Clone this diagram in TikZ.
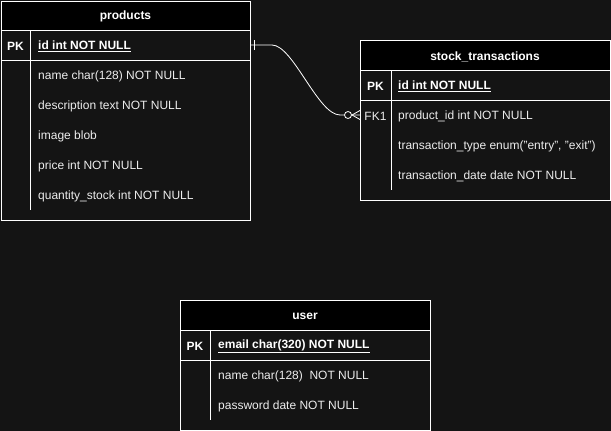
\documentclass[tikz,border=0pt]{standalone}
\usepackage{fontspec}
\setmainfont{Liberation Sans}
\definecolor{canvas}{HTML}{141414}
\definecolor{fieldtxt}{HTML}{EDEDED}
\begin{document}
\begin{tikzpicture}[x=1pt,y=-1pt,
  font=\fontsize{12}{14}\selectfont, text=fieldtxt,
  title/.style={font=\fontsize{12}{14}\selectfont\bfseries, text=white},
  keylbl/.style={font=\fontsize{12}{14}\selectfont\bfseries, text=white},
  field/.style={anchor=west, inner sep=0pt},
  edge/.style={draw=white, line width=0.8pt}]

\fill[canvas] (0,0) rectangle (611,431);
\useasboundingbox (0,0) rectangle (611,431);

%products
\draw[edge,fill=black] (1,1) rectangle (250,30);
\draw[edge] (1,30) rectangle (250,220);
\draw[edge] (1,60) -- (250,60);
\draw[edge] (30,30) -- (30,210);
\node[title] (products) at (125.5,16.5) {products};
\node[keylbl] (prodpk) at (15.5,46.5) {PK};
\node[field,font=\fontsize{12}{14}\selectfont\bfseries,text=white] (prodid) at (38,46.5) {\underline{id int NOT NULL}};
\node[field] (prodname) at (38,76.5) {name char(128) NOT NULL};
\node[field] (proddesc) at (38,106.5) {description text NOT NULL};
\node[field] (prodimg) at (38,136.5) {image blob};
\node[field] (prodprice) at (38,166.5) {price int NOT NULL};
\node[field] (prodqty) at (38,196.5) {quantity\_stock int NOT NULL};

%stock_transactions
\draw[edge,fill=black] (360,40) rectangle (610,70);
\draw[edge] (360,70) rectangle (610,200);
\draw[edge] (360,100) -- (610,100);
\draw[edge] (391,70) -- (391,190);
\node[title] (stock) at (485,56.5) {stock\_transactions};
\node[keylbl] (stockpk) at (375.5,86.5) {PK};
\node[field,font=\fontsize{12}{14}\selectfont\bfseries,text=white] (stockid) at (398,86.5) {\underline{id int NOT NULL}};
\node (stockfk) at (375.5,116.5) {FK1};
\node[field] (stockprod) at (398,116.5) {product\_id int NOT NULL};
\node[field] (stocktype) at (398,146.5) {transaction\_type enum("entry", "exit")};
\node[field] (stockdate) at (398,176.5) {transaction\_date date NOT NULL};

%user
\draw[edge,fill=black] (180,300) rectangle (430,330);
\draw[edge] (180,330) rectangle (430,430);
\draw[edge] (180,360) -- (430,360);
\draw[edge] (210,330) -- (210,420);
\node[title] (user) at (305,316.5) {user};
\node[keylbl] (userpk) at (195,346.5) {PK};
\node[field,font=\fontsize{12}{14}\selectfont\bfseries,text=white] (useremail) at (218,346.5) {\underline{email char(320) NOT NULL}};
\node[field] (username) at (218,376.5) {name char(128)\ \ NOT NULL};
\node[field] (userpass) at (218,406.5) {password date NOT NULL};

%relation products.id -> stock_transactions.product_id
\coordinate (one) at (250,45);
\coordinate (many) at (360,115);
\draw[edge] (one) -- ++(22,0) .. controls (293,45) and (318,115) .. (340,115) -- (many);
\draw[edge] (one) ++(4,-5) -- ++(0,10);
\draw[edge,fill=canvas] (many) ++(-12,0) circle (3.5pt);
\draw[edge] (many) ++(-8,0) -- ++(8,-4.5);
\draw[edge] (many) ++(-8,0) -- ++(8,4.5);

\end{tikzpicture}
\end{document}
